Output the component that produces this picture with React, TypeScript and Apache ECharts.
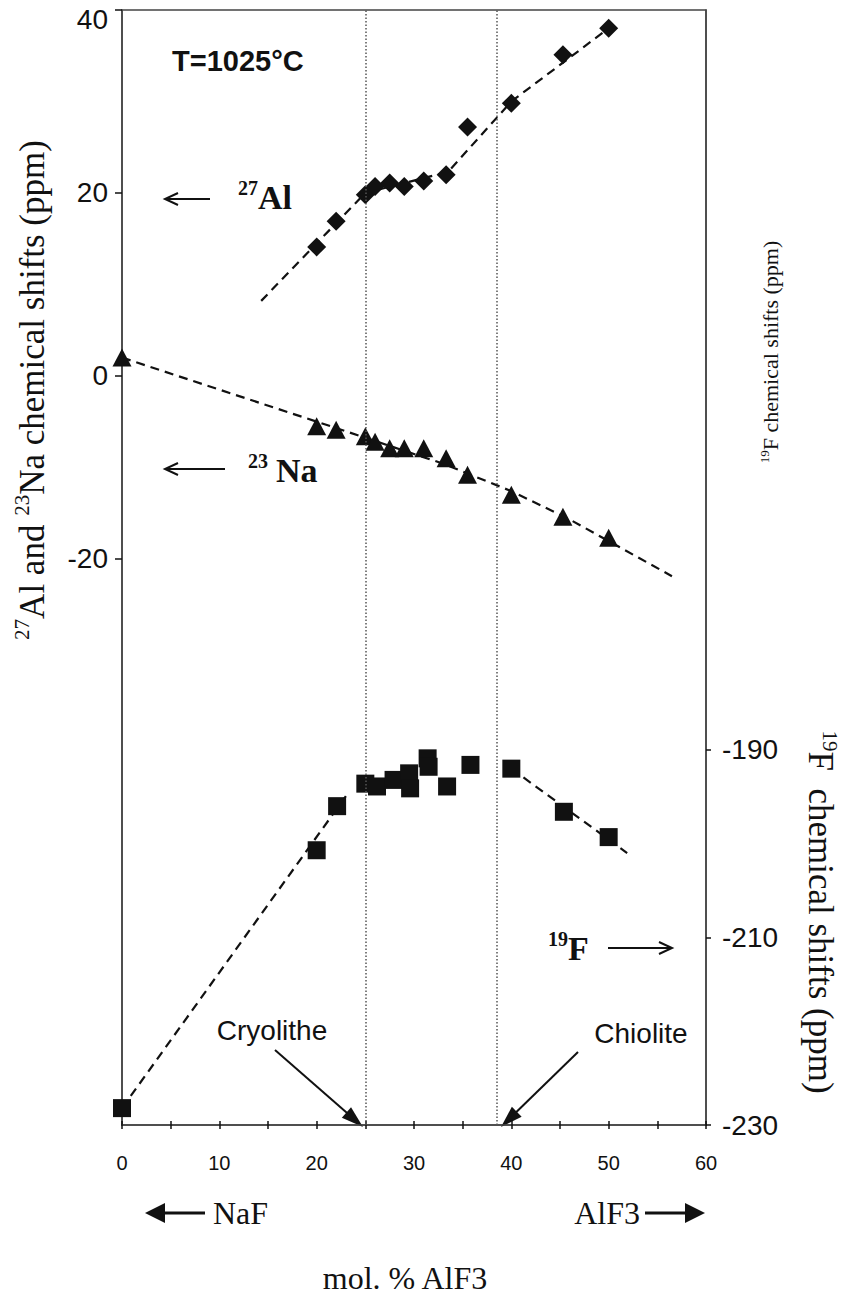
import React, { useEffect, useRef } from "react";
import * as echarts from "echarts";

// Melt compositions (mol. % AlF3) measured for 27Al
const compositions = [20, 22, 25, 26, 27.5, 29, 31, 33.3, 35.5, 40, 45.3, 50];
// 27Al chemical shifts (ppm)
const alShifts = [14.1, 16.9, 19.8, 20.7, 21.1, 20.7, 21.3, 22.0, 27.2, 29.8, 35.1, 38.0];
// 23Na chemical shifts (ppm), pure NaF included
const naCompositions = [0, 20, 22, 25, 26, 27.5, 29, 31, 33.3, 35.5, 40, 45.3, 50];
const naShifts = [2.0, -5.5, -5.9, -6.6, -7.2, -7.9, -7.9, -7.9, -9.0, -10.8, -13.0, -15.4, -17.7];
// 19F chemical shifts (ppm), right-hand scale
const fCompositions = [0, 20, 22.1, 25, 26.2, 27.9, 29.5, 29.6, 31.4, 31.5, 33.4, 35.8, 40, 45.4, 50];
const fShifts = [-228.2, -200.7, -196.0, -193.6, -193.9, -193.2, -192.5, -194.1, -190.9, -191.8, -193.9, -191.6, -192.0, -196.6, -199.3];

// Dashed guide lines drawn through each nucleus
const alTrendX = [14.3, 25, 33.5, 40, 50];
const alTrendY = [8.2, 20, 22.3, 30, 38];
const naTrendX = [0, 21.7, 33, 40, 46, 56.5];
const naTrendY = [2.0, -5.6, -9.6, -12.6, -15.7, -21.9];
const fRiseX = [0, 23.3];
const fRiseY = [-228.2, -194.5];
const fFallX = [40, 51.9];
const fFallY = [-192.0, -201.0];

// Cryolite and chiolite compositions
const phaseLines = [25, 38.5];

// Tick labels
const xLabelValues = [0, 10, 20, 30, 40, 50, 60];
const leftTicks = [40, 20, 0, -20];
const rightTicks = [-190, -210, -230];

const INK = "#111";
const AXIS = "#444";
const SANS = "Liberation Sans";
const SERIF = "Liberation Serif";

const zip = (xs: number[], ys: number[]) => xs.map((x, i) => [x, ys[i]]);

function arrow(
  x1: number, y1: number, x2: number, y2: number,
  o: { lw: number; head: number; half: number; filled: boolean }
) {
  const dx = x2 - x1;
  const dy = y2 - y1;
  const len = Math.hypot(dx, dy);
  const ux = dx / len;
  const uy = dy / len;
  const nx = -uy;
  const ny = ux;
  const bx = x2 - ux * o.head;
  const by = y2 - uy * o.head;
  const endX = o.filled ? bx + ux * 2 : x2;
  const endY = o.filled ? by + uy * 2 : y2;
  const left = [bx + nx * o.half, by + ny * o.half];
  const right = [bx - nx * o.half, by - ny * o.half];
  return {
    type: "group",
    silent: true,
    children: [
      { type: "line", shape: { x1, y1, x2: endX, y2: endY }, style: { stroke: INK, lineWidth: o.lw } },
      o.filled
        ? { type: "polygon", shape: { points: [[x2, y2], left, right] }, style: { fill: INK } }
        : { type: "polyline", shape: { points: [left, [x2, y2], right] }, style: { stroke: INK, lineWidth: o.lw, fill: null } },
    ],
  };
}

function plainText(x: number, y: number, text: string, font: string, align = "left") {
  return {
    type: "text",
    x,
    y,
    silent: true,
    style: { text, font, fill: INK, align, verticalAlign: "middle" },
  };
}

function isotopeText(
  x: number, y: number, mass: string, symbol: string, size: number, bold: boolean,
  align = "left", rotation = 0, gap = 0
) {
  const weight = bold ? "bold" : "normal";
  const supSize = Math.round(size * 0.6);
  return {
    type: "text",
    x,
    y,
    rotation,
    silent: true,
    style: {
      text: `{sup|${mass}}{m|${symbol}}`,
      align,
      verticalAlign: "middle",
      fill: INK,
      rich: {
        sup: {
          fontFamily: SERIF, fontWeight: weight, fontSize: supSize, lineHeight: supSize,
          verticalAlign: "top", fill: INK, padding: [0, gap, 0, 0],
        },
        m: { fontFamily: SERIF, fontWeight: weight, fontSize: size, lineHeight: Math.round(size * 1.15), fill: INK },
      },
    },
  };
}

function buildOption() {
  const dashed = { color: INK, width: 2.2, type: [9, 6] };
  const marker = { color: INK, opacity: 1 };
  const graphics: any[] = [
    plainText(172, 61, "T=1025°C", `bold 29px "${SANS}"`),

    arrow(210, 199, 165, 199, { lw: 2, head: 13, half: 6, filled: false }),
    isotopeText(238, 197, "27", "Al", 34, true),

    arrow(225, 469, 165, 469, { lw: 2, head: 13, half: 6, filled: false }),
    isotopeText(248, 470, "23", "Na", 34, true, "left", 0, 8),

    isotopeText(548, 948, "19", "F", 34, true),
    arrow(608, 948, 672, 948, { lw: 2, head: 13, half: 6, filled: false }),

    plainText(272, 1030, "Cryolithe", `28px "${SANS}"`, "center"),
    arrow(275, 1050, 363, 1127, { lw: 2, head: 22, half: 7, filled: true }),
    plainText(641, 1033, "Chiolite", `28px "${SANS}"`, "center"),
    arrow(578, 1052, 501, 1127, { lw: 2, head: 22, half: 7, filled: true }),

    arrow(205, 1213, 145, 1213, { lw: 3, head: 20, half: 10, filled: true }),
    plainText(213, 1213, "NaF", `32px "${SERIF}"`),
    plainText(640, 1213, "AlF3", `32px "${SERIF}"`, "right"),
    arrow(645, 1213, 705, 1213, { lw: 3, head: 20, half: 10, filled: true }),
    plainText(405, 1278, "mol. % AlF3", `32px "${SERIF}"`, "center"),

    // left axis title
    {
      type: "text",
      x: 32,
      y: 390,
      rotation: Math.PI / 2,
      silent: true,
      style: {
        text: "{sup|27}{m|Al and }{sup|23}{m|Na chemical shifts (ppm)}",
        align: "center",
        verticalAlign: "middle",
        rich: {
          sup: { fontFamily: SERIF, fontSize: 21, lineHeight: 21, verticalAlign: "top", fill: INK },
          m: { fontFamily: SERIF, fontSize: 35, lineHeight: 41, fill: INK },
        },
      },
    },
    // small right title
    isotopeText(770, 352, "19", "F chemical shifts (ppm)", 22, false, "center", Math.PI / 2),
    // large right title
    isotopeText(820, 912, "19", "F  chemical shifts (ppm)", 35, false, "center", -Math.PI / 2),
  ];

  return {
    animation: false,
    backgroundColor: "#fff",
    grid: {
      left: 122,
      top: 10,
      width: 584,
      height: 1115,
      show: true,
      borderColor: AXIS,
      borderWidth: 1.5,
      containLabel: false,
      outerBoundsMode: "none",
    },
    xAxis: [
      {
        type: "value",
        min: 0,
        max: 60,
        interval: 5,
        position: "bottom",
        axisLine: { show: true, onZero: false, lineStyle: { color: AXIS, width: 1.5 } },
        axisTick: { show: true, length: 4, lineStyle: { color: INK, width: 1.5 } },
        axisLabel: { customValues: xLabelValues, fontFamily: SANS, fontSize: 20, color: INK, margin: 28 },
        splitLine: { show: false },
      },
      {
        type: "value",
        min: 0,
        max: 60,
        interval: 5,
        position: "bottom",
        axisLine: { show: false, onZero: false },
        axisTick: { show: true, inside: true, length: 4, lineStyle: { color: INK, width: 1.5 } },
        axisLabel: { show: false },
        splitLine: { show: false },
      },
    ],
    yAxis: [
      {
        type: "value",
        min: -81.9,
        max: 40,
        position: "left",
        axisLine: { show: true, onZero: false, lineStyle: { color: AXIS, width: 1.5 } },
        axisTick: { show: true, customValues: leftTicks, length: 7, lineStyle: { color: INK, width: 1.5 } },
        axisLabel: {
          customValues: leftTicks,
          fontFamily: SANS,
          fontSize: 28,
          color: INK,
          margin: 14,
          formatter: (v: number) => (v === 40 ? "{lo|40}" : String(v)),
          rich: { lo: { fontFamily: SANS, fontSize: 28, color: INK, padding: [18, 0, 0, 0] } },
        },
        splitLine: { show: false },
      },
      {
        type: "value",
        min: -230,
        max: -111.1,
        position: "right",
        axisLine: { show: true, onZero: false, lineStyle: { color: AXIS, width: 1.5 } },
        axisTick: { show: true, customValues: rightTicks, length: 5, lineStyle: { color: INK, width: 1.5 } },
        axisLabel: { customValues: rightTicks, fontFamily: SANS, fontSize: 28, color: INK, margin: 16 },
        splitLine: { show: false },
      },
    ],
    graphic: graphics,
    series: [
      {
        type: "line", name: "27Al trend", data: zip(alTrendX, alTrendY),
        symbol: "none", lineStyle: dashed, silent: true, z: 2,
      },
      {
        type: "line", name: "23Na trend", data: zip(naTrendX, naTrendY),
        symbol: "none", lineStyle: dashed, silent: true, z: 2,
      },
      {
        type: "line", name: "19F trend (rise)", data: zip(fRiseX, fRiseY), yAxisIndex: 1,
        symbol: "none", lineStyle: dashed, silent: true, z: 2,
      },
      {
        type: "line", name: "19F trend (fall)", data: zip(fFallX, fFallY), yAxisIndex: 1,
        symbol: "none", lineStyle: dashed, silent: true, z: 2,
      },
      {
        type: "scatter", name: "27Al", data: zip(compositions, alShifts),
        symbol: "diamond", symbolSize: [19, 19], itemStyle: marker, silent: true, z: 3,
        markLine: {
          silent: true,
          symbol: "none",
          label: { show: false },
          lineStyle: { type: [1.5, 2], color: "#555", width: 1.5 },
          data: phaseLines.map((v) => ({ xAxis: v })),
        },
      },
      {
        type: "scatter", name: "23Na", data: zip(naCompositions, naShifts),
        symbol: "triangle", symbolSize: [19, 18], itemStyle: marker, silent: true, z: 3,
      },
      {
        type: "scatter", name: "19F", data: zip(fCompositions, fShifts), yAxisIndex: 1,
        symbol: "rect", symbolSize: [18, 18], itemStyle: marker, silent: true, z: 3,
      },
    ],
  };
}

export default function App() {
  const ref = useRef<HTMLDivElement>(null);
  useEffect(() => {
    const chart = echarts.init(ref.current as HTMLDivElement, undefined, { renderer: "svg" });
    chart.setOption(buildOption() as any);
    return () => chart.dispose();
  }, []);
  return (
    <div
      ref={ref}
      style={{ position: "fixed", left: 0, top: 0, width: 843, height: 1303, background: "#fff" }}
    />
  );
}
